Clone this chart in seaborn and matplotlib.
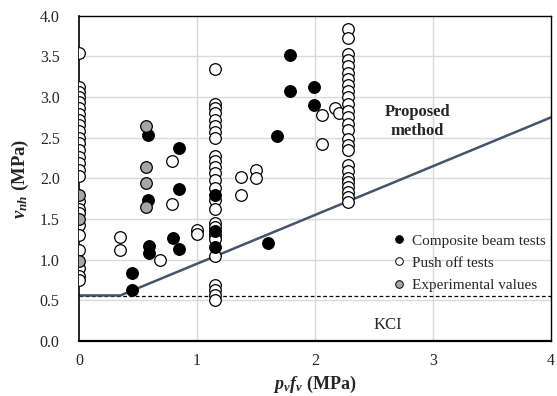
import matplotlib
matplotlib.use("Agg")
import matplotlib.pyplot as plt
from matplotlib.lines import Line2D
import seaborn as sns
import pandas as pd

# ---- data ----
push_x = ([0.0] * 26 + [0.35, 0.35, 0.69, 0.785, 0.785, 1.0, 1.0]
          + [1.15] * 25
          + [1.37, 1.37, 1.50, 1.50, 2.06, 2.06, 2.17, 2.20]
          + [2.28] * 26)
push_y = ([3.54, 3.13, 3.06, 3.00, 2.94, 2.86, 2.79, 2.72, 2.66, 2.58, 2.50,
           2.43, 2.35, 2.26, 2.19, 2.10, 2.03, 1.72, 1.62, 1.57, 1.43, 1.30,
           1.12, 0.90, 0.80, 0.75]
          + [1.28, 1.12, 0.99, 2.22, 1.68, 1.37, 1.31]
          + [3.35, 2.92, 2.86, 2.80, 2.72, 2.64, 2.57, 2.50, 2.27, 2.21, 2.14,
             2.07, 1.98, 1.88, 1.73, 1.62, 1.45, 1.40, 1.30, 1.25, 1.05, 0.69,
             0.63, 0.56, 0.50]
          + [2.02, 1.80, 2.10, 2.00, 2.78, 2.42, 2.86, 2.81]
          + [3.84, 3.73, 3.53, 3.46, 3.38, 3.30, 3.22, 3.15, 3.08, 3.00, 2.92,
             2.83, 2.75, 2.67, 2.59, 2.49, 2.41, 2.35, 2.16, 2.09, 2.01, 1.95,
             1.89, 1.83, 1.77, 1.71])

comp_x = [0.45, 0.45, 0.585, 0.585, 0.59, 0.59, 0.85, 0.85, 0.80, 0.85,
          1.15, 1.15, 1.15, 1.60, 1.68, 1.79, 1.79, 1.99, 1.99]
comp_y = [0.83, 0.63, 2.53, 1.74, 1.17, 1.08, 2.37, 1.87, 1.27, 1.13,
          1.80, 1.35, 1.16, 1.21, 2.52, 3.52, 3.07, 3.12, 2.90]

exp_x = [0.0, 0.0, 0.0, 0.57, 0.57, 0.57, 0.57]
exp_y = [1.80, 1.50, 0.98, 2.65, 2.14, 1.94, 1.65]

proposed_x = [0.0, 0.35, 4.0]
proposed_y = [0.56, 0.56, 2.75]
kci_x = [0.0, 4.0]
kci_y = [0.55, 0.55]

x_ticks = [0, 1, 2, 3, 4]
y_ticks = [0.0, 0.5, 1.0, 1.5, 2.0, 2.5, 3.0, 3.5, 4.0]

series_names = ["Push off tests", "Composite beam tests", "Experimental values"]
colors = {"Composite beam tests": "#000000",
          "Push off tests": "#FFFFFF",
          "Experimental values": "#A6A6A6"}

df = pd.concat([
    pd.DataFrame({"x": push_x, "y": push_y, "series": series_names[0]}),
    pd.DataFrame({"x": comp_x, "y": comp_y, "series": series_names[1]}),
    pd.DataFrame({"x": exp_x, "y": exp_y, "series": series_names[2]}),
], ignore_index=True)

sns.set_style("white")
plt.rcParams["font.family"] = ["Liberation Serif", "DejaVu Serif"]
plt.rcParams["mathtext.fontset"] = "custom"
plt.rcParams["mathtext.rm"] = "Liberation Serif"
plt.rcParams["mathtext.it"] = "Liberation Serif:italic"
plt.rcParams["mathtext.bf"] = "Liberation Serif:bold"
plt.rcParams["mathtext.bfit"] = "Liberation Serif:italic:bold"

fig = plt.figure(figsize=(5.57, 3.96), dpi=100)
ax = fig.add_axes([0.142, 0.139, 0.847, 0.821])

ax.set_axisbelow(True)
for yv in y_ticks[1:-1]:
    ax.axhline(yv, color="#D9D9D9", lw=1.0, zorder=0)
for xv in x_ticks[1:-1]:
    ax.axvline(xv, color="#D9D9D9", lw=1.0, zorder=0)

sns.lineplot(x=kci_x, y=kci_y, ax=ax, color="black", lw=0.9,
             linestyle=(0, (3, 2)), zorder=2)
sns.lineplot(x=proposed_x, y=proposed_y, ax=ax, color="#44546A", lw=1.8,
             zorder=2, estimator=None, sort=False)

for name in series_names:
    sub = df[df["series"] == name]
    sns.scatterplot(data=sub, x="x", y="y", ax=ax, color=colors[name],
                    edgecolor="black", linewidth=0.9, s=70, zorder=3,
                    legend=False)

ax.set_xlim(0, 4)
ax.set_ylim(0, 4)
ax.set_xticks(x_ticks)
ax.set_yticks(y_ticks)
ax.set_xticklabels([str(t) for t in x_ticks])
ax.set_yticklabels([f"{t:.1f}" for t in y_ticks])
ax.tick_params(axis="x", length=4, width=1, color="black", labelsize=11.5,
               direction="out", pad=5)
ax.tick_params(axis="y", length=0, labelsize=11.5, pad=14)
for sp in ax.spines.values():
    sp.set_color("black")
    sp.set_linewidth(1.0)
ax.spines["bottom"].set_linewidth(1.6)
ax.spines["left"].set_linewidth(1.2)

ax.set_xlabel(r"$\mathbfit{p}_{\mathbfit{v}}\mathbfit{f}_{\mathbfit{v}}$ (MPa)",
              fontsize=13, fontweight="bold", labelpad=3)
ax.set_ylabel(r"$\mathbfit{v}_{\mathbfit{nh}}$ (MPa)",
              fontsize=13.5, fontweight="bold", labelpad=6)

ax.text(2.87, 2.70, "Proposed\nmethod", ha="center", va="center",
        fontsize=12, fontweight="bold", linespacing=1.3)
ax.text(2.62, 0.2, "KCI", ha="center", va="center", fontsize=12)

handles = [Line2D([], [], marker="o", ls="", markerfacecolor=colors[n],
                  markeredgecolor="black", markeredgewidth=0.7, markersize=5.5)
           for n in ["Composite beam tests", "Push off tests", "Experimental values"]]
ax.legend(handles, ["Composite beam tests", "Push off tests", "Experimental values"],
          loc="center left", bbox_to_anchor=(0.64, 0.24), frameon=False,
          fontsize=11, handletextpad=0.3, labelspacing=0.55, handlelength=1.0,
          borderpad=0.2)

fig.savefig("out.png", dpi=100)
